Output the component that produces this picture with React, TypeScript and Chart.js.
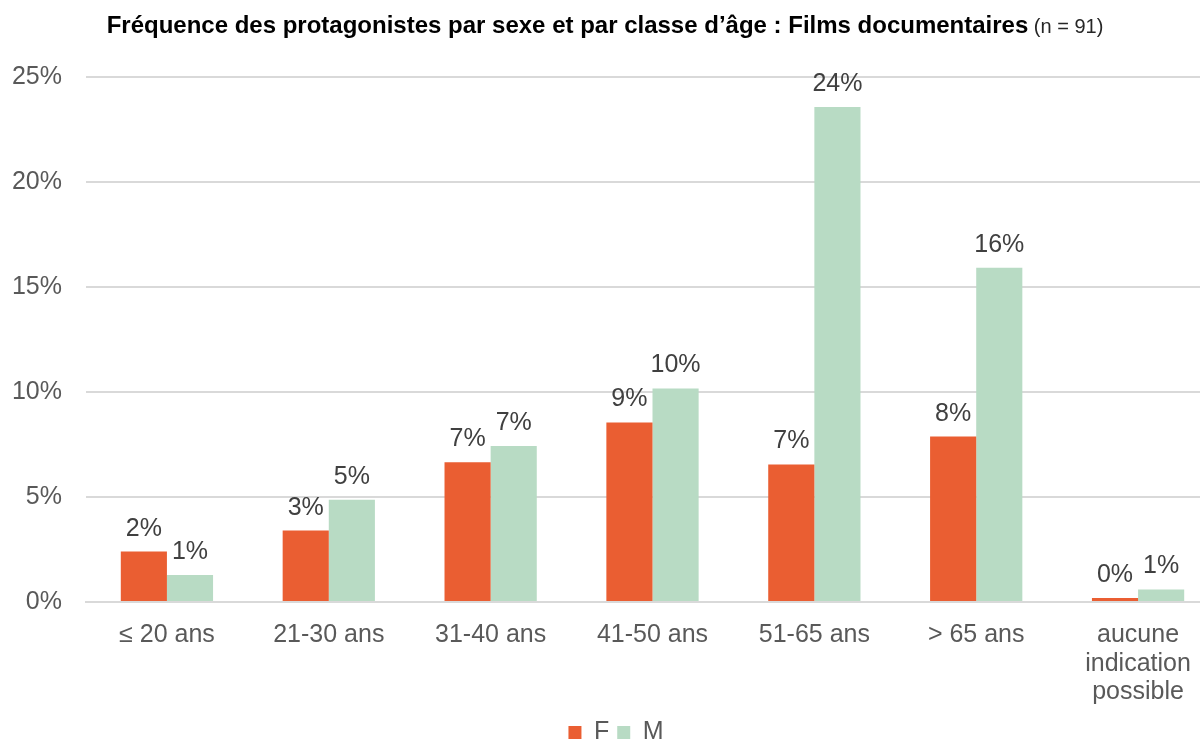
import React, { useEffect, useRef } from "react";
import { Chart, registerables } from "chart.js";

Chart.register(...registerables);

const categories: (string | string[])[] = [
  "≤ 20 ans",
  "21-30 ans",
  "31-40 ans",
  "41-50 ans",
  "51-65 ans",
  "> 65 ans",
  ["aucune", "indication", "possible"],
];
const valuesF = [2.4, 3.4, 6.66, 8.55, 6.55, 7.88, 0.19];
const valuesM = [1.28, 4.87, 7.43, 10.17, 23.57, 15.92, 0.6];
const yTicks = [0, 5, 10, 15, 20, 25];

const titleBold = "Fréquence des protagonistes par sexe et par classe d’âge : Films documentaires";
const titleNormal = " (n = 91)";

const FONT = "'Liberation Sans', Arial, sans-serif";

const titlePlugin = {
  id: "mixedTitle",
  afterDraw(chart: any) {
    const ctx = chart.ctx;
    ctx.save();
    ctx.textBaseline = "alphabetic";
    ctx.fillStyle = "#000000";
    const bFont = `bold 24px ${FONT}`;
    const nFont = `20px ${FONT}`;
    ctx.font = bFont;
    const wb = ctx.measureText(titleBold).width;
    ctx.font = nFont;
    const wn = ctx.measureText(titleNormal).width;
    const cx = chart.width / 2 - 5;
    const x0 = cx - (wb + wn) / 2;
    const y = 33;
    ctx.textAlign = "left";
    ctx.font = bFont;
    ctx.fillText(titleBold, x0, y);
    ctx.font = nFont;
    ctx.fillStyle = "#262626";
    ctx.fillText(titleNormal, x0 + wb, y);
    ctx.restore();
  },
};

const dataLabelPlugin = {
  id: "barLabels",
  afterDatasetsDraw(chart: any) {
    const ctx = chart.ctx;
    ctx.save();
    ctx.font = `25px ${FONT}`;
    ctx.fillStyle = "#404040";
    ctx.textAlign = "center";
    ctx.textBaseline = "alphabetic";
    chart.data.datasets.forEach((ds: any, di: number) => {
      const meta = chart.getDatasetMeta(di);
      meta.data.forEach((el: any, i: number) => {
        const v = ds.data[i] as number;
        ctx.fillText(Math.round(v) + "%", el.x, el.y - 16);
      });
    });
    ctx.restore();
  },
};

export default function App() {
  const ref = useRef<HTMLCanvasElement>(null);
  useEffect(() => {
    if (!ref.current) return;
    const chart = new Chart(ref.current, {
      type: "bar",
      data: {
        labels: categories,
        datasets: [
          {
            label: "F",
            data: valuesF,
            backgroundColor: "#EA5E32",
            categoryPercentage: 0.57,
            barPercentage: 1,
          },
          {
            label: "M",
            data: valuesM,
            backgroundColor: "#B8DBC4",
            categoryPercentage: 0.57,
            barPercentage: 1,
          },
        ],
      },
      options: {
        responsive: false,
        animation: false,
        layout: { padding: { top: 77, left: 13, right: 1, bottom: 0 } },
        plugins: {
          legend: {
            position: "bottom",
            labels: {
              boxWidth: 13,
              boxHeight: 13,
              padding: 8,
              color: "#595959",
              font: { family: FONT, size: 25 },
            },
          },
          title: { display: false },
          tooltip: { enabled: false },
        },
        scales: {
          x: {
            grid: { display: false, drawTicks: false },
            border: { display: true, color: "#d9d9d9", width: 2 },
            ticks: {
              color: "#595959",
              padding: 19,
              font: { family: FONT, size: 25, lineHeight: 1.14 },
              maxRotation: 0,
              autoSkip: false,
            },
            afterFit: (axis: any) => {
              axis.height = 110;
            },
          },
          y: {
            min: 0,
            max: 25,
            afterBuildTicks: (axis: any) => {
              axis.ticks = yTicks.map((v) => ({ value: v }));
            },
            grid: { color: "#d9d9d9", lineWidth: 2, drawTicks: false },
            border: { display: false },
            ticks: {
              color: "#595959",
              padding: 24,
              font: { family: FONT, size: 25 },
              callback: (v: any) => v + "%",
            },
            afterFit: (axis: any) => {
              axis.width = 73;
            },
          },
        },
      },
      plugins: [titlePlugin, dataLabelPlugin],
    });
    return () => chart.destroy();
  }, []);
  return (
    <div
      style={{
        position: "fixed",
        left: 0,
        top: 0,
        width: 1200,
        height: 740,
        overflow: "hidden",
        background: "#ffffff",
      }}
    >
      <canvas ref={ref} width={1220} height={755} style={{ display: "block" }} />
    </div>
  );
}
